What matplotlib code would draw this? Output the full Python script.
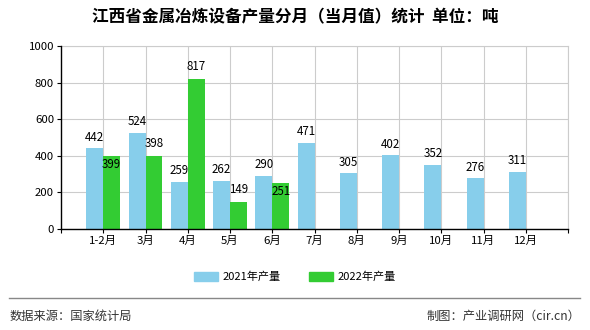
import matplotlib
matplotlib.use("Agg")
from matplotlib import pyplot as plt
from matplotlib.lines import Line2D
import numpy as np

plt.rcParams['font.family'] = ['Noto Sans CJK SC', 'DejaVu Sans']

# Data
months = ['1-2月', '3月', '4月', '5月', '6月', '7月', '8月', '9月', '10月', '11月', '12月']
y2021 = [442, 524, 259, 262, 290, 471, 305, 402, 352, 276, 311]
y2022 = [399, 398, 817, 149, 251]
# label offsets (points) for the 2022 labels, as in the original
off2022 = [-6, 9, 9, 9, -6]

c21 = '#87CEEB'
c22 = '#33CC33'

fig = plt.figure(figsize=(5.9, 3.3), dpi=100)
ax = fig.add_axes([61/590, 1-229/330, (568-61)/590, (229-46)/330])

x = np.arange(1, len(months) + 1)
w = 0.4
ax.bar(x - w/2, y2021, width=w, color=c21, zorder=2)
ax.bar(x[:len(y2022)] + w/2, y2022, width=w, color=c22, zorder=2)

for xi, v in zip(x, y2021):
    ax.annotate(str(v), (xi - w/2, v), xytext=(0, 8), textcoords='offset points',
                ha='center', va='center', fontsize=8.3, zorder=3)
for xi, v, o in zip(x, y2022, off2022):
    ax.annotate(str(v), (xi + w/2, v), xytext=(0, o), textcoords='offset points',
                ha='center', va='center', fontsize=8.3, zorder=3)

ax.set_xlim(0, 12)
ax.set_ylim(0, 1000)
ax.set_yticks(range(0, 1001, 200))
ax.set_xticks(list(x) + [12])
ax.set_xticklabels(months + [''])
ax.set_xticks([0], minor=True)
ax.tick_params(axis='both', labelsize=8.2, length=3, width=0.8, color='black', pad=2)
ax.tick_params(axis='x', which='minor', length=3, width=0.8)
ax.grid(True, color='#CCCCCC', linewidth=0.8, zorder=0)
for s in ['top', 'right']:
    ax.spines[s].set_color('#CCCCCC')
    ax.spines[s].set_linewidth(0.8)
for s in ['left', 'bottom']:
    ax.spines[s].set_color('black')
    ax.spines[s].set_linewidth(1)
    ax.spines[s].set_zorder(4)

fig.text(0.5, 1-17/330, '江西省金属冶炼设备产量分月（当月值）统计  单位：吨',
         ha='center', va='center', fontsize=12, fontweight='bold')

handles = [plt.Rectangle((0, 0), 1, 1, color=c21), plt.Rectangle((0, 0), 1, 1, color=c22)]
fig.legend(handles, ['2021年产量', '2022年产量'], loc='center', bbox_to_anchor=(0.5, 1-277/330),
           ncol=2, frameon=False, fontsize=8, handlelength=2.2, handleheight=0.8,
           columnspacing=2.5, handletextpad=0.4)

fig.add_artist(Line2D([9/590, 580/590], [1-298/330, 1-298/330], color='#888888', linewidth=1))
fig.text(10/590, 1-316/330, '数据来源：国家统计局', ha='left', va='center', fontsize=8.8, color='#333333')
fig.text(580/590, 1-316/330, '制图：产业调研网（cir.cn）', ha='right', va='center', fontsize=8.8, color='#333333')

fig.savefig('out.png', dpi=100)
